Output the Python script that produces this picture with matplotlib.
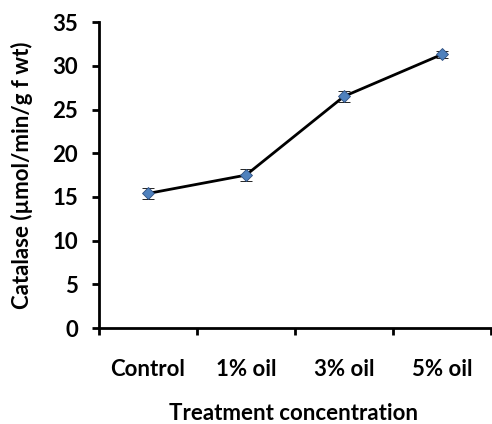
import numpy as np
import matplotlib
matplotlib.use("Agg")
import matplotlib.pyplot as plt

# data
categories = ["Control", "1% oil", "3% oil", "5% oil"]
catalase = [15.4, 17.5, 26.5, 31.3]
errors = [0.6, 0.7, 0.6, 0.4]

plt.rcParams['font.family'] = ['Lato', 'DejaVu Sans']

fig = plt.figure(figsize=(4.92, 4.24), dpi=100)
ax = fig.add_axes([0.201, 0.226, 0.797, 0.722])

x = np.arange(len(categories)) + 0.5
ax.errorbar(x, catalase, yerr=errors, color='black', lw=2,
            ecolor='black', elinewidth=1, capsize=4, capthick=1,
            marker='D', markersize=6, markerfacecolor='#4F81BD',
            markeredgecolor='#2F4F7F', markeredgewidth=0.6, zorder=3)

ax.set_xlim(0, 4)
ax.set_ylim(0, 35)
ax.set_yticks(np.arange(0, 36, 5))
ax.set_xticks(np.arange(0, 5))
ax.set_xticklabels([])
ax.set_xticks(x, minor=True)
ax.set_xticklabels(categories, minor=True, fontsize=16, fontweight='bold')
ax.tick_params(axis='x', which='minor', length=0, pad=22)
ax.tick_params(axis='x', which='major', length=5, width=2, direction='out')
ax.tick_params(axis='y', length=5, width=2, direction='out', labelsize=16, pad=10)
for lab in ax.get_yticklabels():
    lab.set_fontweight('bold')

for s in ['top', 'right']:
    ax.spines[s].set_visible(False)
for s in ['left', 'bottom']:
    ax.spines[s].set_linewidth(2)

ax.set_ylabel("Catalase (µmol/min/g f wt)", fontsize=16, fontweight='bold', labelpad=14)
# x axis title placed by its baseline so it sits close to the bottom edge
fig.text(0.597, 3.5 / 424, "Treatment concentration", fontsize=16, fontweight='bold',
         ha='center', va='baseline')

fig.savefig("out.png", dpi=100)
